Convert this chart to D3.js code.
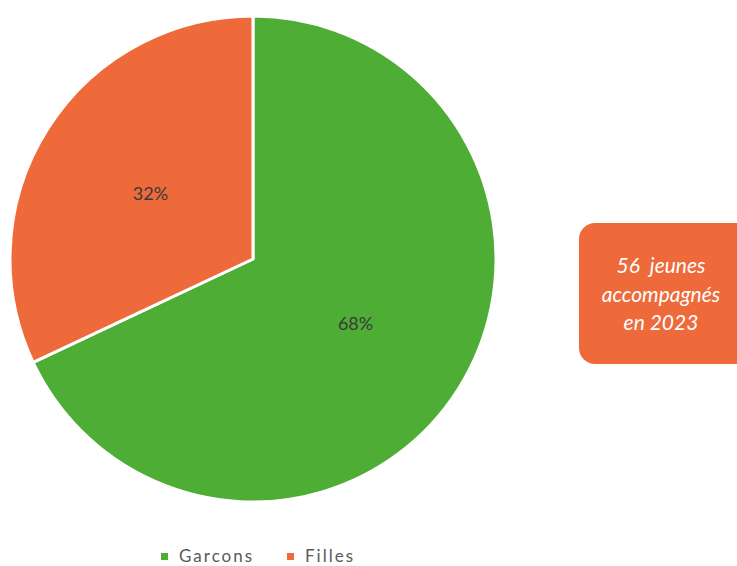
<!DOCTYPE html>
<html><head><meta charset="utf-8">
<script src="https://cdn.jsdelivr.net/npm/d3@7"></script>
<style>html,body{margin:0;padding:0;background:#fff;}svg{display:block;}</style>
</head><body>
<svg id="c" width="737" height="566"></svg>
<script>
const categories = ["Garcons", "Filles"];
const values = [68, 32];
const colors = ["#4EAD34", "#EE6A3A"];
const boxLines = ["56  jeunes", "accompagnés", "en 2023"];

const svg = d3.select("#c");
const cx = 253, cy = 259, r = 243;
const pie = d3.pie().sort(null).value(d => d.v);
const data = pie(categories.map((c, i) => ({c, v: values[i], col: colors[i]})));
const arc = d3.arc().innerRadius(0).outerRadius(r);
const labelArc = d3.arc().innerRadius(r * 0.5).outerRadius(r * 0.5);
const g = svg.append("g").attr("transform", `translate(${cx},${cy})`);
g.selectAll("path").data(data).join("path")
  .attr("d", arc).attr("fill", d => d.data.col)
  .attr("stroke", "#fff").attr("stroke-width", 3).attr("stroke-linejoin", "round");
g.selectAll("text").data(data).join("text")
  .attr("transform", d => `translate(${labelArc.centroid(d)})`)
  .attr("text-anchor", "middle").attr("dy", "0.35em")
  .attr("font-family", "Lato, 'Open Sans', sans-serif").attr("font-size", 18)
  .attr("fill", "#3a3a3a")
  .text(d => d.data.v + "%");

// Box
svg.append("rect").attr("x", 579).attr("y", 223).attr("width", 175).attr("height", 141)
  .attr("rx", 16).attr("fill", "#EE6A3A");
svg.append("g").selectAll("text").data(boxLines).join("text")
  .attr("x", 661).attr("y", (d, i) => 273 + i * 28.5)
  .attr("text-anchor", "middle").attr("font-family", "Lato, 'Open Sans', sans-serif")
  .attr("font-style", "italic").attr("font-size", 21).attr("fill", "#fff")
  .attr("xml:space", "preserve").style("white-space", "pre")
  .text(d => d);

// Legend
const legend = svg.append("g");
const legX = [161, 287];
categories.forEach((c, i) => {
  legend.append("rect").attr("x", legX[i]).attr("y", 553).attr("width", 7).attr("height", 7).attr("fill", colors[i]);
  legend.append("text").attr("x", legX[i] + 18).attr("y", 562)
    .attr("font-family", "Lato, 'Open Sans', sans-serif").attr("font-size", 17)
    .attr("letter-spacing", 2)
    .attr("fill", "#595959").text(c);
});
</script>
</body></html>
